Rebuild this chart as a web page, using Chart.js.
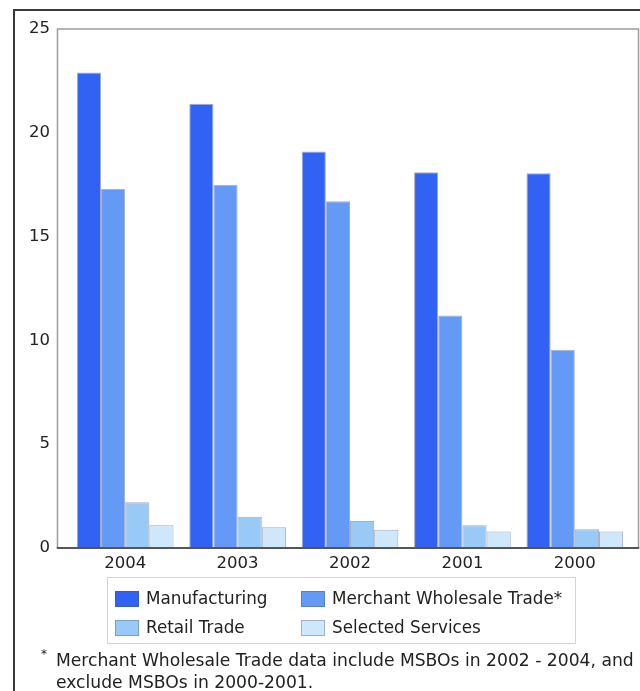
<!DOCTYPE html>
<html>
<head>
<meta charset="utf-8">
<script src="https://cdn.jsdelivr.net/npm/chart.js@4/dist/chart.umd.min.js"></script>
<style>
  html, body { margin: 0; padding: 0; background: #ffffff; }
  #wrap { position: relative; width: 640px; height: 691px; }
</style>
</head>
<body>
<div id="wrap"><canvas id="c" width="640" height="691"></canvas></div>
<script>
// Survey years, newest first
const years = ['2004', '2003', '2002', '2001', '2000'];

// Values per sector
const manufacturing     = [22.9, 21.4, 19.1, 18.1, 18.05];
const merchantWholesale = [17.3, 17.5, 16.7, 11.2, 9.55];
const retailTrade       = [2.2, 1.5, 1.3, 1.1, 0.9];
const selectedServices  = [1.1, 1.0, 0.88, 0.8, 0.8];

// Sector names and fills
const sectorNames  = ['Manufacturing', 'Merchant Wholesale Trade*', 'Retail Trade', 'Selected Services'];
const sectorColors = ['#3162f4', '#6499f5', '#99c9f7', '#cfe7fb'];

// Y axis tick values
const yTicks = [0, 5, 10, 15, 20, 25];

// Footnote lines
const footnoteLines = [
  'Merchant Wholesale Trade data include MSBOs in 2002 - 2004, and',
  'exclude MSBOs in 2000-2001.'
];

const FONT = "'DejaVu Sans', 'Liberation Sans', Arial, sans-serif";
const TEXT = '#222222';

const seriesValues = [manufacturing, merchantWholesale, retailTrade, selectedServices];

// Frame, plot box, legend block and footnote
const decorPlugin = {
  id: 'decor',
  beforeDraw(chart) {
    const ctx = chart.ctx;
    ctx.save();
    ctx.fillStyle = '#ffffff';
    ctx.fillRect(0, 0, chart.width, chart.height);
    ctx.restore();
  },
  afterDraw(chart) {
    const ctx = chart.ctx;
    const a = chart.chartArea;
    const y = chart.scales.y;
    const top = y.getPixelForValue(25);
    const base = y.getPixelForValue(0);
    ctx.save();

    // outer frame (left and top edges)
    ctx.strokeStyle = '#3a3a3a';
    ctx.lineWidth = 2;
    ctx.beginPath();
    ctx.moveTo(14, chart.height);
    ctx.lineTo(14, 10);
    ctx.lineTo(chart.width, 10);
    ctx.stroke();

    // plot box
    const boxL = a.left - 11.5, boxR = a.right + 7.5;
    ctx.strokeStyle = '#9c9c9c';
    ctx.lineWidth = 1.5;
    ctx.beginPath();
    ctx.moveTo(boxL, base);
    ctx.lineTo(boxL, top);
    ctx.lineTo(boxR, top);
    ctx.lineTo(boxR, base);
    ctx.stroke();

    // baseline
    ctx.strokeStyle = '#555555';
    ctx.lineWidth = 2;
    ctx.beginPath();
    ctx.moveTo(boxL - 0.75, base);
    ctx.lineTo(boxR + 0.75, base);
    ctx.stroke();

    // legend block
    ctx.strokeStyle = '#d4d4d4';
    ctx.lineWidth = 1;
    ctx.strokeRect(107.5, 577.5, 468, 66);
    const colX = [115, 301];
    const rowY = [599, 628];
    ctx.font = '16.8px ' + FONT;
    ctx.textBaseline = 'middle';
    ctx.textAlign = 'left';
    chart.data.datasets.forEach((ds, i) => {
      const x = colX[i % 2];
      const yy = rowY[Math.floor(i / 2)];
      ctx.fillStyle = ds.backgroundColor;
      ctx.fillRect(x, yy - 8, 24, 16);
      ctx.strokeStyle = 'rgba(70,80,110,0.35)';
      ctx.strokeRect(x + 0.5, yy - 7.5, 23, 15);
      ctx.fillStyle = TEXT;
      ctx.fillText(ds.label, x + 31, yy + 1);
    });

    // footnote, sized so the first line runs to the right edge
    ctx.fillStyle = TEXT;
    ctx.font = '12px ' + FONT;
    ctx.fillText('*', 41, 655);
    let size = 16;
    ctx.font = size + 'px ' + FONT;
    size = size * 578 / ctx.measureText(footnoteLines[0]).width;
    ctx.font = size.toFixed(2) + 'px ' + FONT;
    ctx.fillText(footnoteLines[0], 56, 662);
    ctx.fillText(footnoteLines[1], 56, 684);

    ctx.restore();
  }
};

new Chart(document.getElementById('c'), {
  type: 'bar',
  data: {
    labels: years,
    datasets: sectorNames.map((name, i) => ({
      label: name,
      data: seriesValues[i],
      backgroundColor: sectorColors[i],
      borderColor: 'rgba(60,70,110,0.45)',
      borderWidth: 1,
      categoryPercentage: 0.86,
      barPercentage: 1.0
    }))
  },
  options: {
    responsive: false,
    animation: false,
    layout: { padding: { left: 0, right: 9, top: 29, bottom: 0 } },
    plugins: {
      legend: { display: false },
      tooltip: { enabled: false }
    },
    scales: {
      x: {
        grid: { display: false, drawTicks: false },
        border: { display: false },
        ticks: { font: { family: FONT, size: 16.5 }, color: TEXT, padding: 6 },
        afterFit(scale) { scale.height = 143; }
      },
      y: {
        min: 0,
        max: 25,
        grid: { display: false, drawTicks: false },
        border: { display: false },
        afterBuildTicks(scale) { scale.ticks = yTicks.map(v => ({ value: v })); },
        ticks: { font: { family: FONT, size: 16.5 }, color: TEXT, padding: 19 },
        afterFit(scale) { scale.width = 69; }
      }
    }
  },
  plugins: [decorPlugin]
});
</script>
</body>
</html>
